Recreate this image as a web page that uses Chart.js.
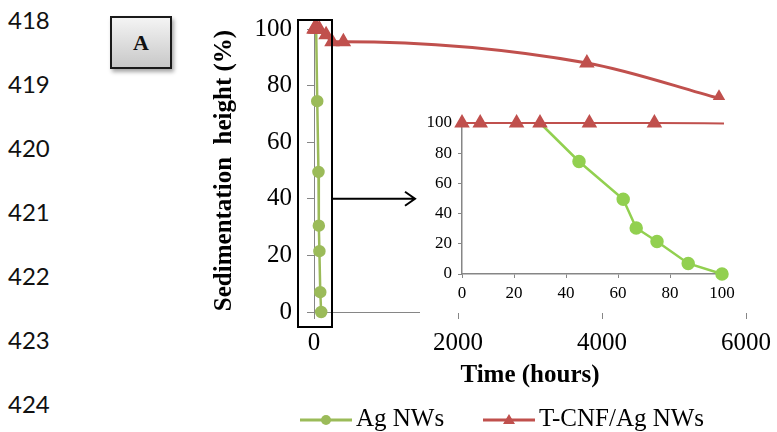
<!DOCTYPE html>
<html>
<head>
<meta charset="utf-8">
<script src="https://cdn.jsdelivr.net/npm/chart.js@4.4.0/dist/chart.umd.min.js"></script>
<style>
  body { margin: 0; background: #fff; width: 777px; height: 432px; overflow: hidden; position: relative; font-family: "Liberation Serif", serif; }
  #mainChart { position: absolute; left: 0; top: 0; }
  #insetBox { position: absolute; left: 420px; top: 100px; width: 345px; height: 213px; background: #fff; }
  .ln { position: absolute; left: 8px; font-family: Lato, "Open Sans", sans-serif; font-size: 24px; line-height: 24px; color: #111; }
  #tagA { position: absolute; left: 110px; top: 16px; width: 58px; height: 49px; border: 2px solid #1a1a1a;
          background: linear-gradient(#f4f4f4, #c8c8c8); box-shadow: 2px 3px 4px rgba(0,0,0,0.35);
          font: bold 22px "Liberation Serif", serif; text-align: center; line-height: 49px; color: #111; }
  #legend { position: absolute; top: 403px; left: 300px; height: 30px; font-size: 25px; color: #000; }
  .item { position: absolute; top: 0; white-space: nowrap; line-height: 30px; }
  .item svg { vertical-align: middle; margin-right: 4px; }
</style>
</head>
<body>
<div class="ln" style="top:8px">418</div>
<div class="ln" style="top:72px">419</div>
<div class="ln" style="top:136px">420</div>
<div class="ln" style="top:200px">421</div>
<div class="ln" style="top:264px">422</div>
<div class="ln" style="top:328px">423</div>
<div class="ln" style="top:392px">424</div>
<div id="tagA">A</div>

<canvas id="mainChart" width="777" height="432"></canvas>
<div id="insetBox"><canvas id="insetChart" width="345" height="213"></canvas></div>

<div id="legend">
  <div class="item" style="left:0"><svg width="52" height="14"><line x1="0" y1="7" x2="52" y2="7" stroke="#9BBB59" stroke-width="3"/><circle cx="26" cy="7" r="5" fill="#9BBB59"/></svg>Ag NWs</div>
  <div class="item" style="left:183px"><svg width="52" height="14"><line x1="0" y1="7" x2="52" y2="7" stroke="#C0504D" stroke-width="3"/><polygon points="26,1 32,11 20,11" fill="#C0504D"/></svg>T-CNF/Ag NWs</div>
</div>

<script>
// --- Data (hours vs sedimentation height %) ---
const agHours = [30, 45, 62, 67, 75, 87, 100];
const agHeight = [100, 74.5, 49.5, 30.5, 21.5, 7, 0];

const cnfHours = [0, 7, 21, 30, 49, 74, 168, 250, 408, 3790, 5625];
const cnfHeight = [100, 100, 100, 100, 100, 100, 98, 95.5, 95.5, 88, 75.5];

const mainXTicks = [0, 2000, 4000, 6000];
const yTicks = [0, 20, 40, 60, 80, 100];
const insetXTicks = [0, 20, 40, 60, 80, 100];

const COLORS = {
    agMain: '#9BBB59',
    agInset: '#92D050',
    cnf: '#C0504D',
    axis: '#868686'
};

const SERIF = "'Liberation Serif', 'Times New Roman', serif";

const toPoints = (xs, ys) => xs.map((x, i) => ({ x: x, y: ys[i] }));
const plainLabel = (v) => String(v);

// hide the first green marker, it sits under the triangle
const agRadius = (r) => (ctx) => ctx.dataIndex === 0 ? 0 : r;

// --- Main chart ---
const boxAndArrow = {
    id: 'boxAndArrow',
    afterDraw(chart) {
        const { ctx, scales: { x, y } } = chart;
        const x0 = x.getPixelForValue(0);
        const left = x0 - 16, right = x0 + 18;
        const top = y.getPixelForValue(100) - 9, bottom = y.getPixelForValue(0) + 15;
        const ay = y.getPixelForValue(40);
        ctx.save();
        ctx.strokeStyle = '#000';
        ctx.lineWidth = 2;
        ctx.strokeRect(left, top, right - left, bottom - top);
        ctx.beginPath();
        ctx.moveTo(right, ay);
        ctx.lineTo(right + 83, ay);
        ctx.moveTo(right + 73, ay - 7);
        ctx.lineTo(right + 83, ay);
        ctx.lineTo(right + 73, ay + 7);
        ctx.stroke();
        ctx.restore();
    }
};

new Chart(document.getElementById('mainChart'), {
    type: 'line',
    data: {
        datasets: [
            {
                label: 'T-CNF/Ag NWs',
                data: toPoints(cnfHours, cnfHeight),
                borderColor: COLORS.cnf,
                backgroundColor: COLORS.cnf,
                borderWidth: 3,
                pointStyle: 'triangle',
                pointRadius: 6,
                cubicInterpolationMode: 'monotone',
                clip: false,
                order: 0
            },
            {
                label: 'Ag NWs',
                data: toPoints(agHours, agHeight),
                borderColor: COLORS.agMain,
                backgroundColor: COLORS.agMain,
                borderWidth: 2.5,
                pointStyle: 'circle',
                pointRadius: agRadius(5),
                clip: false,
                order: 1
            }
        ]
    },
    options: {
        responsive: false,
        animation: false,
        layout: { padding: { left: 200, top: 29, right: 31, bottom: 40 } },
        plugins: { legend: { display: false }, tooltip: { enabled: false } },
        scales: {
            x: {
                type: 'linear',
                min: 0,
                max: 6000,
                afterFit: (s) => { s.height = 80; s.paddingRight = 28; },
                afterBuildTicks: (s) => { s.ticks = mainXTicks.map(v => ({ value: v })); },
                ticks: { font: { family: SERIF, size: 25 }, color: '#000', padding: 9, maxRotation: 0, callback: plainLabel },
                grid: { drawOnChartArea: false, tickLength: 7, color: COLORS.axis },
                border: { color: COLORS.axis },
                title: { display: true, text: 'Time (hours)', color: '#000',
                         font: { family: SERIF, size: 25, weight: 'bold' }, padding: { top: 0, bottom: 1 } }
            },
            y: {
                min: 0,
                max: 100,
                afterFit: (s) => { s.width = 114; s.paddingTop = 20; },
                afterBuildTicks: (s) => { s.ticks = yTicks.map(v => ({ value: v })); },
                ticks: { font: { family: SERIF, size: 25 }, color: '#000', padding: 15, callback: plainLabel },
                grid: { drawOnChartArea: false, tickLength: 7, color: COLORS.axis },
                border: { color: COLORS.axis },
                title: { display: true, text: 'Sedimentation  height (%)', color: '#000',
                         font: { family: SERIF, size: 25, weight: 'bold' }, padding: { top: 10, bottom: 0 } }
            }
        }
    },
    plugins: [boxAndArrow]
});

// --- Inset chart (first 100 hours) ---
new Chart(document.getElementById('insetChart'), {
    type: 'line',
    data: {
        datasets: [
            {
                label: 'T-CNF/Ag NWs',
                data: toPoints(cnfHours, cnfHeight),
                borderColor: COLORS.cnf,
                backgroundColor: COLORS.cnf,
                borderWidth: 2,
                pointStyle: 'triangle',
                pointRadius: 7,
                cubicInterpolationMode: 'monotone',
                clip: { left: 10, top: 10, right: 2, bottom: 10 },
                order: 0
            },
            {
                label: 'Ag NWs',
                data: toPoints(agHours, agHeight),
                borderColor: COLORS.agInset,
                backgroundColor: COLORS.agInset,
                borderWidth: 2.5,
                pointStyle: 'circle',
                pointRadius: agRadius(5.5),
                clip: { left: 10, top: 10, right: 10, bottom: 10 },
                order: 1
            }
        ]
    },
    options: {
        responsive: false,
        animation: false,
        layout: { padding: { left: 0, top: 23, right: 43, bottom: 0 } },
        plugins: { legend: { display: false }, tooltip: { enabled: false } },
        scales: {
            x: {
                type: 'linear',
                min: 0,
                max: 100,
                afterFit: (s) => { s.height = 39; },
                afterBuildTicks: (s) => { s.ticks = insetXTicks.map(v => ({ value: v })); },
                ticks: { font: { family: SERIF, size: 17 }, color: '#000', padding: 5, maxRotation: 0, callback: plainLabel },
                grid: { drawOnChartArea: false, tickLength: 4, color: COLORS.axis },
                border: { color: COLORS.axis, width: 1.5 }
            },
            y: {
                min: 0,
                max: 100,
                afterFit: (s) => { s.width = 42; },
                afterBuildTicks: (s) => { s.ticks = yTicks.map(v => ({ value: v })); },
                ticks: { font: { family: SERIF, size: 17 }, color: '#000', padding: 6, callback: plainLabel },
                grid: { drawOnChartArea: false, tickLength: 4, color: COLORS.axis },
                border: { color: COLORS.axis, width: 1.5 }
            }
        }
    }
});
</script>
</body>
</html>
